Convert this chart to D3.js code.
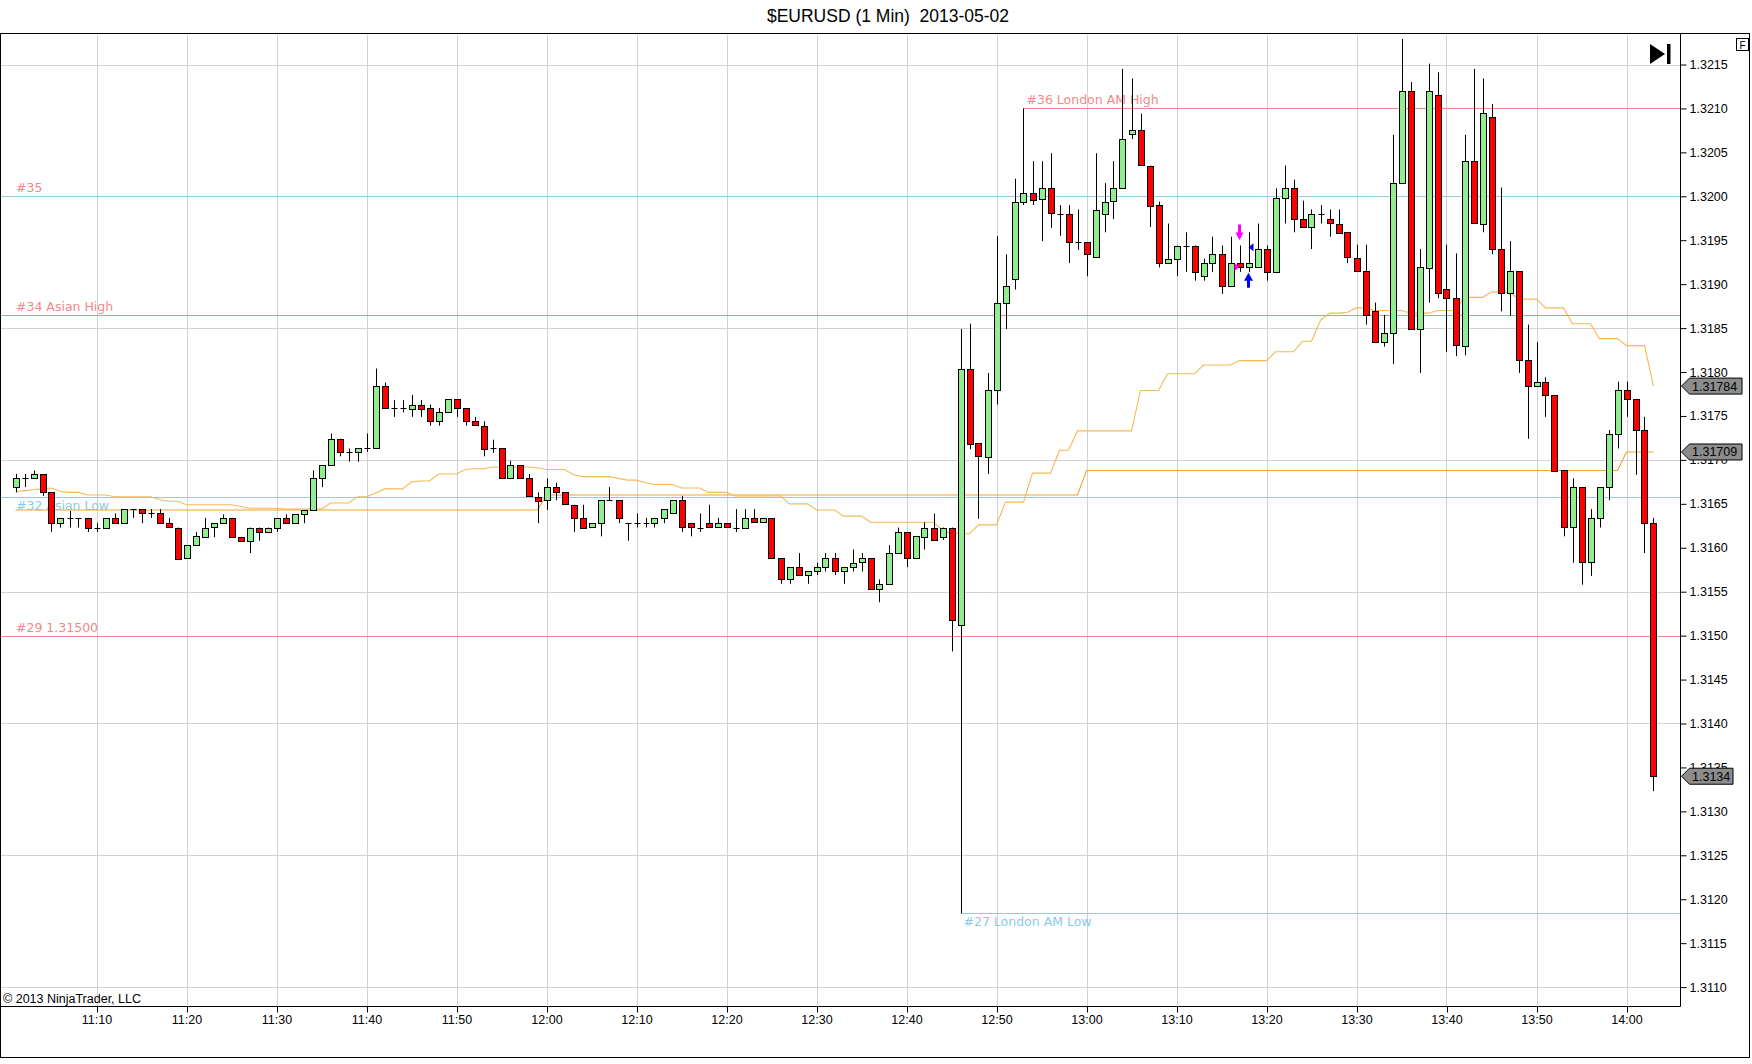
<!DOCTYPE html>
<html><head><meta charset="utf-8">
<script src="https://cdn.jsdelivr.net/npm/d3@7"></script>
<style>
html,body{margin:0;padding:0;background:#fff;}
svg{display:block;}
</style></head><body>
<svg id="chart" width="1752" height="1064"></svg>
<script>
// ---------------- DATA ----------------
const chartTitle = "$EURUSD (1 Min)  2013-05-02";
const copyright = "\u00A9 2013 NinjaTrader, LLC";
const firstBarTime = [11, 1]; // 1-minute bars from 11:01

const opens = [
1.31669,1.31679,1.31679,1.31684,1.31663,1.31628,1.31634,1.31634,1.31634,1.31623,
1.31623,1.31634,1.31628,1.31644,1.31644,1.31639,1.31639,1.31628,1.31623,1.31588,
1.31603,1.31613,1.31623,1.31628,1.31634,1.31612,1.31608,1.31623,1.31618,1.31623,
1.31634,1.31628,1.31638,1.31643,1.31679,1.31694,1.31724,1.31709,1.31709,1.31713,
1.31713,1.31784,1.31759,1.31759,1.31759,1.31763,1.31759,1.31744,1.31754,1.31769,
1.31759,1.31744,1.31739,1.31713,1.31713,1.31679,1.31694,1.31679,1.31658,1.31654,
1.31669,1.31663,1.31649,1.31634,1.31623,1.31628,1.31654,1.31654,1.31628,1.31628,
1.31628,1.31628,1.31634,1.31639,1.31654,1.31628,1.31623,1.31628,1.31623,1.31628,
1.31623,1.31623,1.31634,1.31629,1.31634,1.31588,1.31564,1.31578,1.31569,1.31573,
1.31578,1.31588,1.31573,1.31578,1.31583,1.31588,1.31553,1.31559,1.31594,1.31618,
1.31588,1.31613,1.31623,1.31613,1.31623,1.31513,1.31804,1.31719,1.31704,1.31780,
1.31879,1.31906,1.31994,1.32004,1.31996,1.32009,1.31980,1.31980,1.31948,1.31948,
1.31930,1.31980,1.31994,1.32009,1.32070,1.32075,1.32035,1.31990,1.31924,1.31929,
1.31944,1.31944,1.31909,1.31924,1.31934,1.31898,1.31924,1.31919,1.31919,1.31940,
1.31914,1.31998,1.32009,1.31974,1.31965,1.31980,1.31974,1.31969,1.31959,1.31930,
1.31915,1.31869,1.31834,1.31844,1.32015,1.32120,1.31849,1.31919,1.32115,1.31894,
1.31884,1.31830,1.32040,1.31969,1.32090,1.31940,1.31890,1.31915,1.31814,1.31784,
1.31789,1.31774,1.31688,1.31623,1.31669,1.31584,1.31634,1.31669,1.31729,1.31779,
1.31769,1.31734,1.31628];
const highs = [
1.31684,1.31684,1.31688,1.31684,1.31663,1.31634,1.31642,1.31634,1.31634,1.31628,
1.31634,1.31639,1.31644,1.31644,1.31644,1.31644,1.31644,1.31634,1.31623,1.31603,
1.31618,1.31634,1.31628,1.31638,1.31634,1.31612,1.31623,1.31623,1.31623,1.31634,
1.31638,1.31638,1.31643,1.31688,1.31694,1.31730,1.31724,1.31713,1.31713,1.31730,
1.31804,1.31788,1.31768,1.31768,1.31774,1.31768,1.31763,1.31759,1.31769,1.31769,
1.31759,1.31749,1.31744,1.31723,1.31713,1.31699,1.31694,1.31684,1.31663,1.31679,
1.31674,1.31663,1.31649,1.31649,1.31628,1.31654,1.31669,1.31654,1.31628,1.31639,
1.31634,1.31634,1.31644,1.31654,1.31659,1.31628,1.31639,1.31649,1.31634,1.31628,
1.31644,1.31644,1.31644,1.31634,1.31634,1.31588,1.31578,1.31594,1.31573,1.31583,
1.31594,1.31594,1.31578,1.31598,1.31594,1.31588,1.31564,1.31603,1.31623,1.31618,
1.31613,1.31629,1.31639,1.31623,1.31623,1.31849,1.31855,1.31719,1.31799,1.31955,
1.31934,1.32020,1.32100,1.32040,1.32040,1.32049,1.31990,1.31990,1.31985,1.31948,
1.32049,1.32015,1.32040,1.32145,1.32134,1.32094,1.32035,1.31994,1.31969,1.31944,
1.31959,1.31944,1.31929,1.31954,1.31944,1.31954,1.31944,1.31959,1.31969,1.31944,
1.32009,1.32035,1.32019,1.31995,1.31985,1.31990,1.31985,1.31985,1.31959,1.31945,
1.31945,1.31879,1.31865,1.32070,1.32179,1.32130,1.31940,1.32151,1.32141,1.31945,
1.31935,1.32070,1.32145,1.32134,1.32105,1.32010,1.31949,1.31915,1.31854,1.31834,
1.31794,1.31774,1.31688,1.31679,1.31669,1.31644,1.31669,1.31734,1.31789,1.31789,
1.31769,1.31749,1.31634];
const lows = [
1.31663,1.31669,1.31679,1.31659,1.31618,1.31623,1.31623,1.31623,1.31618,1.31618,
1.31623,1.31628,1.31628,1.31634,1.31628,1.31634,1.31628,1.31623,1.31588,1.31588,
1.31603,1.31613,1.31612,1.31628,1.31612,1.31608,1.31594,1.31608,1.31618,1.31618,
1.31628,1.31628,1.31628,1.31643,1.31669,1.31694,1.31704,1.31698,1.31698,1.31709,
1.31713,1.31759,1.31749,1.31754,1.31749,1.31749,1.31739,1.31739,1.31754,1.31749,
1.31739,1.31739,1.31704,1.31708,1.31679,1.31679,1.31679,1.31658,1.31628,1.31643,
1.31654,1.31649,1.31618,1.31623,1.31623,1.31613,1.31654,1.31628,1.31608,1.31623,
1.31623,1.31623,1.31628,1.31639,1.31618,1.31613,1.31618,1.31623,1.31623,1.31623,
1.31618,1.31623,1.31629,1.31629,1.31588,1.31559,1.31559,1.31569,1.31559,1.31569,
1.31573,1.31569,1.31559,1.31573,1.31573,1.31553,1.31538,1.31559,1.31594,1.31578,
1.31588,1.31598,1.31609,1.31609,1.31482,1.31184,1.31712,1.31633,1.31684,1.31763,
1.31849,1.31894,1.31990,1.31990,1.31949,1.31964,1.31955,1.31924,1.31939,1.31909,
1.31930,1.31959,1.31974,1.32009,1.32065,1.32035,1.31965,1.31919,1.31924,1.31909,
1.31914,1.31904,1.31904,1.31914,1.31889,1.31898,1.31914,1.31914,1.31919,1.31904,
1.31914,1.31969,1.31959,1.31965,1.31940,1.31969,1.31954,1.31959,1.31924,1.31915,
1.31854,1.31834,1.31829,1.31809,1.32015,1.31849,1.31799,1.31879,1.31884,1.31823,
1.31818,1.31819,1.31969,1.31959,1.31934,1.31869,1.31864,1.31799,1.31724,1.31784,
1.31749,1.31688,1.31613,1.31583,1.31558,1.31568,1.31623,1.31654,1.31713,1.31749,
1.31683,1.31594,1.31323];
const closes = [
1.31679,1.31679,1.31684,1.31663,1.31628,1.31634,1.31634,1.31634,1.31623,1.31623,
1.31634,1.31628,1.31644,1.31644,1.31639,1.31639,1.31628,1.31623,1.31588,1.31603,
1.31613,1.31623,1.31628,1.31634,1.31612,1.31608,1.31623,1.31618,1.31623,1.31634,
1.31628,1.31638,1.31643,1.31679,1.31694,1.31724,1.31709,1.31709,1.31713,1.31713,
1.31784,1.31759,1.31759,1.31759,1.31763,1.31759,1.31744,1.31754,1.31769,1.31759,
1.31744,1.31739,1.31713,1.31713,1.31679,1.31694,1.31679,1.31658,1.31654,1.31669,
1.31663,1.31649,1.31634,1.31623,1.31628,1.31654,1.31654,1.31634,1.31628,1.31628,
1.31628,1.31634,1.31644,1.31654,1.31623,1.31623,1.31623,1.31623,1.31628,1.31623,
1.31623,1.31634,1.31629,1.31634,1.31588,1.31564,1.31578,1.31569,1.31573,1.31578,
1.31588,1.31573,1.31578,1.31583,1.31588,1.31553,1.31559,1.31594,1.31618,1.31588,
1.31613,1.31623,1.31609,1.31623,1.31518,1.31804,1.31719,1.31704,1.31780,1.31879,
1.31898,1.31994,1.32004,1.31996,1.32009,1.31980,1.31980,1.31948,1.31948,1.31934,
1.31984,1.31994,1.32009,1.32065,1.32075,1.32035,1.31990,1.31924,1.31929,1.31944,
1.31944,1.31914,1.31924,1.31934,1.31898,1.31924,1.31919,1.31924,1.31940,1.31914,
1.31998,1.32009,1.31974,1.31965,1.31980,1.31980,1.31969,1.31959,1.31930,1.31915,
1.31865,1.31834,1.31844,1.32015,1.32120,1.31849,1.31919,1.32120,1.31890,1.31884,
1.31830,1.32040,1.31969,1.32095,1.31940,1.31890,1.31915,1.31814,1.31784,1.31789,
1.31774,1.31688,1.31623,1.31669,1.31584,1.31634,1.31669,1.31729,1.31779,1.31769,
1.31734,1.31628,1.31340];

// indicator line A (light orange)
const lineA = [
1.31664,1.31665,1.31666,1.31667,1.31668,1.31664,1.31663,1.31663,1.31660,1.31660,
1.31660,1.31658,1.31658,1.31658,1.31658,1.31658,1.31655,1.31653,1.31653,1.31649,
1.31649,1.31649,1.31649,1.31649,1.31649,1.31647,1.31645,1.31645,1.31645,1.31645,
1.31644,1.31644,1.31644,1.31644,1.31644,1.31651,1.31651,1.31651,1.31658,1.31658,
1.31662,1.31667,1.31667,1.31667,1.31675,1.31676,1.31676,1.31684,1.31684,1.31684,
1.31689,1.31690,1.31690,1.31692,1.31692,1.31692,1.31692,1.31692,1.31691,1.31689,
1.31689,1.31689,1.31683,1.31681,1.31681,1.31681,1.31681,1.31679,1.31677,1.31677,
1.31674,1.31672,1.31672,1.31672,1.31668,1.31668,1.31668,1.31663,1.31663,1.31663,
1.31659,1.31659,1.31659,1.31659,1.31659,1.31659,1.31650,1.31650,1.31650,1.31643,
1.31643,1.31643,1.31636,1.31636,1.31636,1.31629,1.31629,1.31629,1.31629,1.31629,
1.31629,1.31629,1.31629,1.31620,1.31616,1.31616,1.31616,1.31626,1.31626,1.31626,
1.31652,1.31652,1.31652,1.31685,1.31685,1.31685,1.31711,1.31711,1.31733,1.31733,
1.31733,1.31733,1.31733,1.31733,1.31733,1.31779,1.31779,1.31779,1.31798,1.31798,
1.31798,1.31798,1.31808,1.31808,1.31808,1.31808,1.31813,1.31813,1.31813,1.31813,
1.31823,1.31823,1.31823,1.31835,1.31835,1.31859,1.31867,1.31867,1.31868,1.31873,
1.31873,1.31870,1.31870,1.31870,1.31870,1.31867,1.31867,1.31867,1.31870,1.31870,
1.31870,1.31885,1.31885,1.31885,1.31891,1.31891,1.31891,1.31883,1.31883,1.31883,
1.31873,1.31873,1.31873,1.31855,1.31855,1.31855,1.31838,1.31838,1.31838,1.31830,
1.31830,1.31830,1.31784];
// indicator line B (orange)
const lineB = [
1.31643,1.31643,1.31643,1.31643,1.31643,1.31643,1.31643,1.31643,1.31643,1.31643,
1.31643,1.31643,1.31643,1.31643,1.31643,1.31643,1.31643,1.31643,1.31643,1.31643,
1.31643,1.31643,1.31643,1.31643,1.31643,1.31643,1.31643,1.31643,1.31643,1.31643,
1.31643,1.31643,1.31643,1.31643,1.31643,1.31643,1.31643,1.31643,1.31643,1.31643,
1.31643,1.31643,1.31643,1.31643,1.31643,1.31643,1.31643,1.31643,1.31643,1.31643,
1.31643,1.31643,1.31643,1.31643,1.31643,1.31643,1.31643,1.31643,1.31643,1.31660,
1.31660,1.31660,1.31660,1.31660,1.31660,1.31660,1.31660,1.31660,1.31660,1.31660,
1.31660,1.31660,1.31660,1.31660,1.31660,1.31660,1.31660,1.31660,1.31660,1.31660,
1.31660,1.31660,1.31660,1.31660,1.31660,1.31660,1.31660,1.31660,1.31660,1.31660,
1.31660,1.31660,1.31660,1.31660,1.31660,1.31660,1.31660,1.31660,1.31660,1.31660,
1.31660,1.31660,1.31660,1.31660,1.31660,1.31660,1.31660,1.31660,1.31660,1.31660,
1.31660,1.31660,1.31660,1.31660,1.31660,1.31660,1.31660,1.31660,1.31660,1.31688,
1.31688,1.31688,1.31688,1.31688,1.31688,1.31688,1.31688,1.31688,1.31688,1.31688,
1.31688,1.31688,1.31688,1.31688,1.31688,1.31688,1.31688,1.31688,1.31688,1.31688,
1.31688,1.31688,1.31688,1.31688,1.31688,1.31688,1.31688,1.31688,1.31688,1.31688,
1.31688,1.31688,1.31688,1.31688,1.31688,1.31688,1.31688,1.31688,1.31688,1.31688,
1.31688,1.31688,1.31688,1.31688,1.31688,1.31688,1.31688,1.31688,1.31688,1.31688,
1.31688,1.31688,1.31688,1.31688,1.31688,1.31688,1.31688,1.31688,1.31688,1.31709,
1.31709,1.31709,1.31709];

// price axis labels & grid
const priceTicks = [1.3110,1.3115,1.3120,1.3125,1.3130,1.3135,1.3140,1.3145,1.3150,1.3155,1.3160,1.3165,1.3170,1.3175,1.3180,1.3185,1.3190,1.3195,1.3200,1.3205,1.3210,1.3215];
const priceGrid = [1.3110,1.3125,1.3140,1.3155,1.3170,1.3185,1.3200,1.3215];
const timeTicks = ["11:10","11:20","11:30","11:40","11:50","12:00","12:10","12:20","12:30","12:40","12:50","13:00","13:10","13:20","13:30","13:40","13:50","14:00"];

// horizontal level lines
const levelNames  = ["#36 London AM High","#35","#34 Asian High","#32 Asian Low","#29 1.31500","#27 London AM Low"];
const levelPrices = [1.32100,1.32000,1.31865,1.31658,1.31500,1.31184];
const levelStartBar = [112,null,null,null,null,105];
const levelKind = ["high","low","high","low","high","low"];
const levelLabelKind = ["high","high","high","low","high","low"];

// last-value markers on price axis
const markerValues = ["1.31784","1.31709","1.3134"];

// trade signals
const signalBars = [136,137];
const signalDir = ["down","up"];

// ---------------- DRAW ----------------
const W = 1752, H = 1064;
const PL = 0, PT = 34, PR = 1680, PB = 1006;
const svg = d3.select("#chart");
svg.append("rect").attr("width",W).attr("height",H).attr("fill","#fff");

const day = (h,m)=>new Date(2013,4,2,h,m);
const parseHM = s=>{const p=s.split(":");return day(+p[0],+p[1]);};
const barTime = i=>day(firstBarTime[0], firstBarTime[1]+i);

const x = d3.scaleTime().domain([day(11,10),day(14,0)]).range([96.5,1626.5]);
const y = d3.scaleLinear().domain([1.3110,1.3215]).range([987.1,64.5]);
const cr = v=>Math.round(v)+0.5;

const FONT = "'Liberation Sans', Arial, sans-serif";
const LFONT = "'DejaVu Sans', Verdana, sans-serif";

// clip for plot
svg.append("clipPath").attr("id","clip").append("rect")
  .attr("x",PL+1).attr("y",PT+1).attr("width",PR-PL-1).attr("height",PB-PT-1);
const g = svg.append("g").attr("clip-path","url(#clip)");

// grid
g.selectAll("line.vg").data(timeTicks).join("line")
  .attr("x1",d=>cr(x(parseHM(d)))).attr("x2",d=>cr(x(parseHM(d))))
  .attr("y1",PT).attr("y2",PB).attr("stroke","#d2d2d2").attr("stroke-width",1);
g.selectAll("line.hg").data(priceGrid).join("line")
  .attr("x1",PL).attr("x2",PR).attr("y1",d=>cr(y(d))).attr("y2",d=>cr(y(d)))
  .attr("stroke","#d2d2d2").attr("stroke-width",1);

// level lines
const lvlColor = k=>k==="high"?"#e88890":"#8fcde6";
const lvlText  = k=>k==="high"?"#f08a8a":"#88cbe8";
levelPrices.forEach((p,i)=>{
  const x0 = levelStartBar[i]==null?PL:x(barTime(levelStartBar[i]));
  g.append("line").attr("x1",x0).attr("x2",PR).attr("y1",cr(y(p))).attr("y2",cr(y(p)))
    .attr("stroke",lvlColor(levelKind[i])).attr("stroke-width",1);
  const below = (levelNames[i].indexOf("Low")>=0);
  g.append("text").text(levelNames[i])
    .attr("x",levelStartBar[i]==null?16:x0+3)
    .attr("y",below?y(p)+13:y(p)-4)
    .attr("font-family",LFONT).attr("font-size",12.5)
    .attr("fill",lvlText(levelLabelKind[i]));
});

// indicator lines
const lineGen = d3.line().x((d,i)=>x(barTime(i))).y(d=>y(d));
g.append("path").attr("d",lineGen(lineB)).attr("fill","none").attr("stroke","#f2a52a").attr("stroke-width",1.1);
g.append("path").attr("d",lineGen(lineA)).attr("fill","none").attr("stroke","#f6b955").attr("stroke-width",1.1);

// candles
const bars = opens.map((o,i)=>({i,o,h:highs[i],l:lows[i],c:closes[i],t:barTime(i)}));
const cg = g.append("g");
cg.selectAll("line.wick").data(bars).join("line")
  .attr("x1",d=>cr(x(d.t))).attr("x2",d=>cr(x(d.t)))
  .attr("y1",d=>y(d.h)).attr("y2",d=>y(d.l))
  .attr("stroke","#000").attr("stroke-width",1);
cg.selectAll("rect.body").data(bars.filter(d=>Math.abs(d.o-d.c)>0.000005)).join("rect")
  .attr("x",d=>cr(x(d.t))-3).attr("width",6)
  .attr("y",d=>Math.round(y(Math.max(d.o,d.c)))+0.5)
  .attr("height",d=>Math.max(1,Math.round(Math.abs(y(d.o)-y(d.c)))))
  .attr("fill",d=>d.c>d.o?"#90ee90":"#ff0000")
  .attr("stroke","#000").attr("stroke-width",1);
cg.selectAll("line.doji").data(bars.filter(d=>Math.abs(d.o-d.c)<=0.000005)).join("line")
  .attr("x1",d=>cr(x(d.t))-3).attr("x2",d=>cr(x(d.t))+3)
  .attr("y1",d=>cr(y(d.o))).attr("y2",d=>cr(y(d.o)))
  .attr("stroke","#000").attr("stroke-width",1);

// signals
signalBars.forEach((b,i)=>{
  const cx = x(barTime(b));
  if(signalDir[i]==="down"){
    const yb = y(highs[b])-6;
    g.append("path").attr("d",`M${cx-1.5},${yb-15}h3v8h2.5l-4,7.5l-4,-7.5h2.5z`).attr("fill","#ff00ff");
    const yo = y(opens[b]);
    g.append("path").attr("d",`M${cx-5},${yo}L${cx},${yo+4}L${cx-5},${yo+8}z`).attr("fill","#ff00ff");
  } else {
    const yt = y(lows[b])+1;
    g.append("path").attr("d",`M${cx},${yt}l4.5,8h-3v7h-3v-7h-3z`).attr("fill","#0000ff");
    const yh = y(highs[b])+15;
    g.append("path").attr("d",`M${cx+5},${yh-4}L${cx},${yh}L${cx+5},${yh+4}z`).attr("fill","#0000ff");
  }
});

// frames
svg.append("rect").attr("x",0.5).attr("y",33.5).attr("width",1749).attr("height",1024)
  .attr("fill","none").attr("stroke","#000");
svg.append("line").attr("x1",PR+0.5).attr("x2",PR+0.5).attr("y1",33.5).attr("y2",PB+0.5).attr("stroke","#000");
svg.append("line").attr("x1",0).attr("x2",PR+0.5).attr("y1",PB+0.5).attr("y2",PB+0.5).attr("stroke","#000");

// right axis
const ya = svg.append("g").attr("transform",`translate(${PR+0.5},0)`)
  .call(d3.axisRight(y).tickValues(priceTicks).tickFormat(d3.format(".4f")).tickSize(6).tickPadding(3));
ya.select(".domain").remove();
ya.selectAll("line").attr("stroke","#000");
ya.selectAll("text").attr("font-family",FONT).attr("font-size",12.5).attr("fill","#000");

// bottom axis
const xa = svg.append("g").attr("transform",`translate(0,${PB+0.5})`)
  .call(d3.axisBottom(x).tickValues(timeTicks.map(parseHM)).tickFormat(d3.timeFormat("%H:%M")).tickSize(6).tickPadding(3));
xa.select(".domain").remove();
xa.selectAll("line").attr("stroke","#000").attr("transform","translate(0.5,0)");
xa.selectAll("text").attr("font-family",FONT).attr("font-size",12.5).attr("fill","#000");

// last value markers
markerValues.forEach(s=>{
  const yc = y(+s);
  const w = s.length>6?62:53;
  svg.append("path").attr("d",`M${PR+1.5},${yc}L${PR+9.5},${yc-8}H${PR+w}V${yc+8}H${PR+9.5}Z`)
    .attr("fill","#8c8c8c").attr("stroke","#000").attr("stroke-width",1);
  svg.append("text").text(s).attr("x",PR+12).attr("y",yc).attr("dy","0.36em")
    .attr("font-family",FONT).attr("font-size",12.5).attr("fill","#000");
});

// title
svg.append("text").text(chartTitle).attr("x",888).attr("y",22).attr("text-anchor","middle")
  .attr("xml:space","preserve").style("white-space","pre")
  .attr("font-family",FONT).attr("font-size",17.5).attr("fill","#000");

// copyright
svg.append("text").text(copyright).attr("x",3).attr("y",1003)
  .attr("font-family",FONT).attr("font-size",12.5).attr("fill","#000");

// go-to-end icon
svg.append("path").attr("d","M1650,44L1665,54L1650,64Z").attr("fill","#000");
svg.append("rect").attr("x",1667).attr("y",44).attr("width",3.5).attr("height",20).attr("fill","#000");
// F box
svg.append("rect").attr("x",1736.5).attr("y",38.5).attr("width",12).attr("height",12).attr("fill","#fff").attr("stroke","#000");
svg.append("text").text("F").attr("x",1742.5).attr("y",48.5).attr("text-anchor","middle")
  .attr("font-family",FONT).attr("font-size",10).attr("fill","#000");
</script>
</body></html>
